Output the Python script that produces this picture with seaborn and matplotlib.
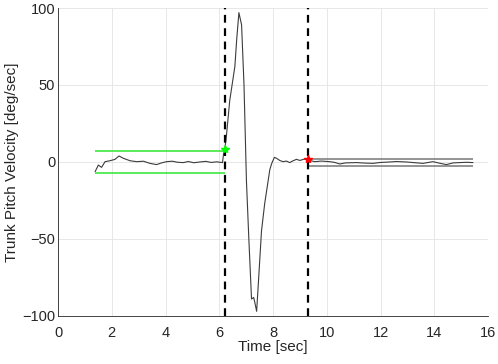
import matplotlib
matplotlib.use("Agg")
import matplotlib.pyplot as plt
import seaborn as sns
import pandas as pd

# ---- data ----
t_sig = [1.38, 1.5, 1.62, 1.75, 1.93, 2.12, 2.27, 2.43, 2.68, 2.93, 3.18, 3.42, 3.67,
         3.85, 4.04, 4.25, 4.45, 4.66, 4.85, 5.05, 5.28, 5.5, 5.7, 5.9, 6.12, 6.17,
         6.2, 6.25, 6.39, 6.58, 6.65, 6.73, 6.83, 6.92, 7.01, 7.1, 7.2, 7.28, 7.32,
         7.39, 7.45, 7.57, 7.69, 7.82, 7.88, 7.95, 8.05, 8.13, 8.25, 8.37, 8.5, 8.62,
         8.75, 8.87, 9.0, 9.15, 9.3,
         9.42, 9.55, 9.8, 10.11, 10.3, 10.48, 10.7, 11.1, 11.4, 11.72, 12.0, 12.34,
         12.6, 12.96, 13.3, 13.58, 13.95, 14.2, 14.45, 14.7, 14.94, 15.2, 15.44]
v_sig = [-6.3, -2.0, -3.5, 0.2, 0.8, 1.7, 3.9, 2.4, 0.8, 0.2, 0.5, -0.9, -1.7,
         -0.6, 0.2, 0.5, -0.2, -0.4, 0.3, -0.5, 0.0, 0.4, -0.3, 0.1, -0.4, 6.7,
         8.4, 14.0, 40.0, 62.0, 80.0, 97.0, 89.0, 50.0, -12.0, -50.0, -89.0, -88.0, -91.0,
         -97.0, -80.0, -45.0, -27.0, -12.0, -5.0, -1.0, 3.0, 2.4, 1.0, 0.2, 0.6, -0.4,
         0.8, 1.7, 1.0, 1.8, 1.8,
         0.8, 0.2, 0.6, 0.2, -0.3, -1.3, -0.6, -0.4, -0.7, -0.9, -0.3, 0.0,
         0.3, 0.0, -0.5, -0.9, 0.2, -0.8, -1.7, -0.6, -0.4, -0.2, -0.4]

onset_t, offset_t = 6.2, 9.3
green_band = [7.0, -7.0]          # baseline thresholds
green_span = [1.38, 6.2]
gray_band = [1.8, -2.6]           # post-movement thresholds
gray_span = [9.3, 15.44]
onset_pt = (6.2, 8.4)
offset_pt = (9.3, 1.8)

x_ticks = [0, 2, 4, 6, 8, 10, 12, 14, 16]
y_ticks = [-100, -50, 0, 50, 100]

# ---- plot ----
sns.set_style("white")
plt.rcParams["font.family"] = ["Liberation Sans", "DejaVu Sans"]

fig = plt.figure(figsize=(4.98, 3.64), dpi=100)
ax = fig.add_axes([0.1165, 0.132, 0.8635, 0.846])

df = pd.DataFrame({"t": t_sig, "v": v_sig})
sns.lineplot(data=df, x="t", y="v", ax=ax, color="#3c3c3c", lw=0.8, sort=False)

ax.hlines(green_band, green_span[0], green_span[1], color="#2ee62e", lw=1.1, zorder=3)
ax.hlines(gray_band, gray_span[0], gray_span[1], color="#767676", lw=1.1, zorder=3)

for xv in (onset_t, offset_t):
    ax.axvline(xv, color="black", lw=1.6, dashes=(3.5, 2.5), zorder=4)

ax.plot([onset_pt[0]], [onset_pt[1]], marker="*", color="#00ff00", ms=6, zorder=5)
ax.plot([offset_pt[0]], [offset_pt[1]], marker="*", color="#ff0000", ms=6, zorder=5)

ax.set_xlim(0, 16)
ax.set_ylim(-100, 100)
ax.set_xticks(x_ticks)
ax.set_yticks(y_ticks)
ax.grid(True, color="#e3e3e3", lw=0.6)
ax.set_axisbelow(True)
for s in ("top", "right"):
    ax.spines[s].set_visible(False)
for s in ("left", "bottom"):
    ax.spines[s].set_color("#262626")
    ax.spines[s].set_linewidth(0.6)
ax.tick_params(direction="in", length=3, width=0.6, color="#262626",
               labelsize=10.5, labelcolor="#262626")
ax.tick_params(axis="x", pad=7)
ax.tick_params(axis="y", pad=2)
ax.set_xlabel("Time [sec]", fontsize=11, color="#262626", labelpad=0)
ax.set_ylabel("Trunk Pitch Velocity [deg/sec]", fontsize=11, color="#262626", labelpad=2)

fig.savefig("out.png", dpi=100)
